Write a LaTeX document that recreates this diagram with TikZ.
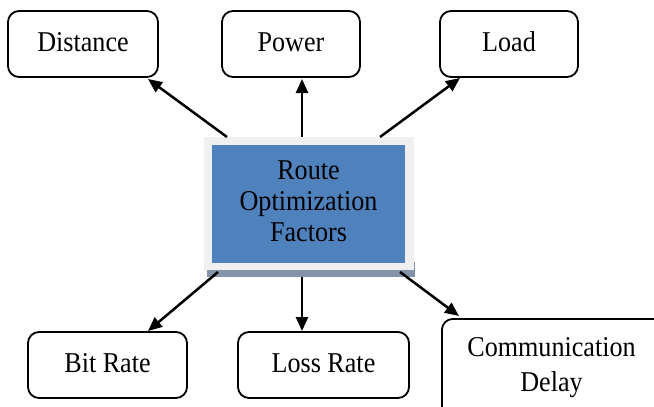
\documentclass[tikz,border=0pt]{standalone}
\usepackage{fontspec}
\setmainfont{Liberation Serif}[FakeStretch=0.91]
\usetikzlibrary{arrows.meta}
\begin{document}
\begin{tikzpicture}[x=1pt,y=-1pt,
  factor/.style={draw=black,line width=1.8pt,rounded corners=11pt,fill=white,
    align=center,inner sep=0pt,text height=20.5pt,text depth=5.5pt,
    font=\fontsize{28.7}{31}\selectfont},
  link/.style={line width=2.5pt,-{Triangle[length=14pt,width=12pt]}}]
\useasboundingbox (0,0) rectangle (654,407);
% central box
\fill[fill={rgb,255:red,132;green,147;blue,170}] (207,262) rectangle (415,277);
\fill[fill={rgb,255:red,240;green,240;blue,240}] (204,137) rectangle (414,270);
\node[fill={rgb,255:red,79;green,129;blue,189},minimum width=193pt,minimum height=118pt,
  inner sep=0pt] (c) at (308.5,204) {};
\node[align=center,inner sep=0pt,font=\fontsize{28.7}{31}\selectfont] (ct) at (308.5,201.5) {Route\\Optimization\\Factors};
% outer boxes
\node[factor,minimum width=150pt,minimum height=66pt] (dist) at (83,44) {Distance};
\node[factor,minimum width=138pt,minimum height=66pt] (pow) at (291,44) {Power};
\node[factor,minimum width=138pt,minimum height=66pt] (load) at (509,44) {Load};
\node[factor,minimum width=159pt,minimum height=66pt] (bit) at (107.5,365) {Bit Rate};
\node[factor,minimum width=171pt,minimum height=66pt] (loss) at (323.5,365) {Loss Rate};
\node[draw=black,line width=1.8pt,rounded corners=11pt,fill=white,minimum width=222pt,minimum height=110pt,anchor=north west] (comm) at (441,318) {};
\node[font=\fontsize{28.7}{35}\selectfont,align=center,inner sep=0pt] (commt) at (551.5,368) {Communication\\Delay};
% connectors
\coordinate (s1) at (227,137);
\coordinate (s2) at (302,137);
\coordinate (s3) at (380,137);
\coordinate (s4) at (218,272);
\coordinate (s5) at (302,277);
\coordinate (s6) at (400,272);
\coordinate (t1) at (148,79);
\coordinate (t2) at (302,79);
\coordinate (t3) at (460,78);
\coordinate (t4) at (148,331);
\coordinate (t5) at (302,331);
\coordinate (t6) at (459,316);
\draw[link] (s1) -- (t1);
\draw[link] (s2) -- (t2);
\draw[link] (s3) -- (t3);
\draw[link] (s4) -- (t4);
\draw[link] (s5) -- (t5);
\draw[link] (s6) -- (t6);
\end{tikzpicture}
\end{document}
